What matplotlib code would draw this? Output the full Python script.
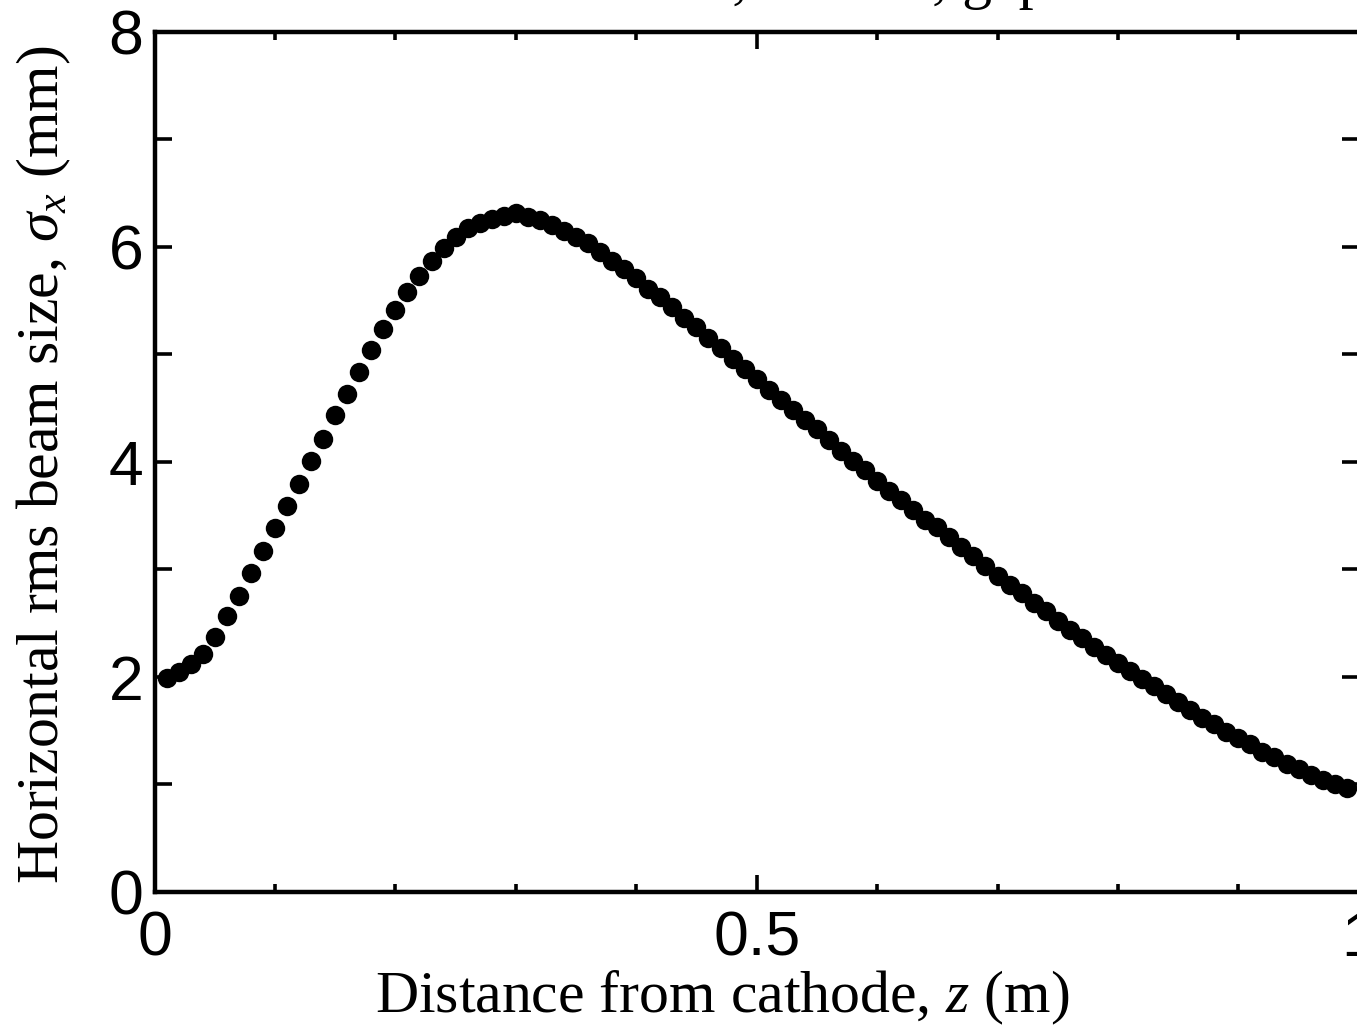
import matplotlib
matplotlib.use("Agg")
import matplotlib.pyplot as plt
from matplotlib.ticker import MultipleLocator
import numpy as np

# distance from cathode (m) and horizontal rms beam size (mm)
z = [0.01, 0.02, 0.03, 0.04, 0.05, 0.06, 0.07, 0.08, 0.09, 0.10,
     0.11, 0.12, 0.13, 0.14, 0.15, 0.16, 0.17, 0.18, 0.19, 0.20,
     0.21, 0.22, 0.23, 0.24, 0.25, 0.26, 0.27, 0.28, 0.29, 0.30,
     0.31, 0.32, 0.33, 0.34, 0.35, 0.36, 0.37, 0.38, 0.39, 0.40,
     0.41, 0.42, 0.43, 0.44, 0.45, 0.46, 0.47, 0.48, 0.49, 0.50,
     0.51, 0.52, 0.53, 0.54, 0.55, 0.56, 0.57, 0.58, 0.59, 0.60,
     0.61, 0.62, 0.63, 0.64, 0.65, 0.66, 0.67, 0.68, 0.69, 0.70,
     0.71, 0.72, 0.73, 0.74, 0.75, 0.76, 0.77, 0.78, 0.79, 0.80,
     0.81, 0.82, 0.83, 0.84, 0.85, 0.86, 0.87, 0.88, 0.89, 0.90,
     0.91, 0.92, 0.93, 0.94, 0.95, 0.96, 0.97, 0.98, 0.99]
sigma_x = [1.99, 2.04, 2.12, 2.21, 2.37, 2.56, 2.75, 2.96, 3.17, 3.38,
           3.59, 3.79, 4.01, 4.21, 4.43, 4.63, 4.83, 5.04, 5.23, 5.41,
           5.58, 5.73, 5.87, 5.99, 6.09, 6.17, 6.22, 6.26, 6.29, 6.31,
           6.28, 6.25, 6.20, 6.15, 6.09, 6.03, 5.95, 5.87, 5.79, 5.71,
           5.61, 5.53, 5.44, 5.34, 5.25, 5.15, 5.06, 4.96, 4.86, 4.77,
           4.67, 4.57, 4.48, 4.39, 4.30, 4.20, 4.10, 4.01, 3.92, 3.82,
           3.73, 3.64, 3.55, 3.46, 3.39, 3.30, 3.21, 3.12, 3.03, 2.94,
           2.85, 2.78, 2.69, 2.61, 2.52, 2.43, 2.36, 2.28, 2.20, 2.13,
           2.05, 1.98, 1.91, 1.84, 1.76, 1.69, 1.62, 1.56, 1.49, 1.43,
           1.37, 1.30, 1.25, 1.19, 1.14, 1.09, 1.04, 1.00, 0.96]

xtick_vals = [0, 0.5, 1]
xtick_labels = ["0", "0.5", "1"]
ytick_vals = [0, 2, 4, 6, 8]
ytick_labels = ["0", "2", "4", "6", "8"]

plt.rcParams["mathtext.fontset"] = "custom"
plt.rcParams["mathtext.rm"] = "Liberation Serif"
plt.rcParams["mathtext.it"] = "Liberation Serif:italic"

fig = plt.figure(figsize=(13.57, 10.26), dpi=100)
ax = fig.add_axes([0.1139, 0.1309, 0.8874, 0.8382])

ax.plot(z, sigma_x, "o", color="black", markersize=14, markeredgewidth=0)

ax.set_xlim(0, 1)
ax.set_ylim(0, 8)
ax.set_xticks(xtick_vals)
ax.set_xticklabels(xtick_labels)
ax.set_yticks(ytick_vals)
ax.set_yticklabels(ytick_labels)
ax.xaxis.set_minor_locator(MultipleLocator(0.1))
ax.yaxis.set_minor_locator(MultipleLocator(1))

for side in ax.spines.values():
    side.set_linewidth(3.2)
ax.tick_params(which="both", direction="in", top=True, right=True, width=2.6)
ax.tick_params(axis="x", which="major", length=12, pad=13)
ax.tick_params(axis="x", which="minor", length=6)
ax.tick_params(axis="y", which="both", length=12, pad=8)
for lab in ax.get_xticklabels() + ax.get_yticklabels():
    lab.set_fontfamily("Liberation Sans")
    lab.set_fontsize(45)

fig.text(722 / 1357, 1 - 1012 / 1026, "Distance from cathode, $z$ (m)",
         family="Liberation Serif", fontsize=43, ha="center", va="baseline")
fig.text(44 / 1357, 1 - 465 / 1026, r"Horizontal rms beam size, $\sigma_x$ (mm)",
         family="Liberation Serif", fontsize=43, ha="center", va="center",
         rotation=90)
# title sits mostly above the visible area
fig.text(385 / 1357, 1 + 3 / 1026, "Electron beam, 500 kV, gap 100 mm",
         family="Liberation Serif", fontsize=43, ha="left", va="baseline")

fig.savefig("out.png", dpi=100)
